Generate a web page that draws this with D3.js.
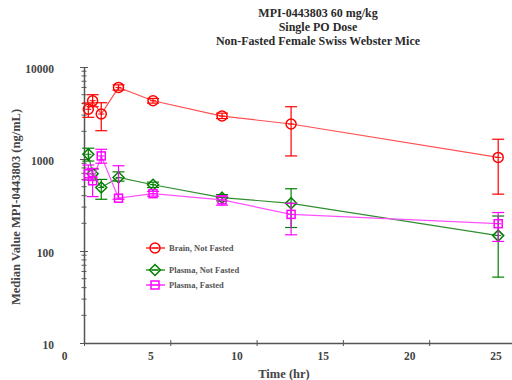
<!DOCTYPE html>
<html>
<head>
<meta charset="utf-8">
<script src="https://cdnjs.cloudflare.com/ajax/libs/d3/7.8.5/d3.min.js"></script>
<style>
  body { margin: 0; background: #fff; }
  svg { font-family: "Liberation Serif", "Times New Roman", serif; font-weight: bold; }
</style>
</head>
<body>
<div id="chart"></div>
<script>
// sampling times (hr)
const times = [0.25, 0.5, 1, 2, 4, 8, 12, 24];

// Brain, Not Fasted
const brainMed = [3470, 4300, 3080, 6000, 4300, 2930, 2400, 1040];
const brainLo  = [2840, 3700, 2030, 5600, 4050, 2750, 1080, 415];
const brainHi  = [4070, 5000, 4090, 6400, 4550, 3150, 3700, 1640];

// Plasma, Not Fasted
const pnfMed = [1125, 690, 490, 630, 525, 380, 330, 147];
const pnfLo  = [950, 590, 365, 575, 490, 350, 180, 52];
const pnfHi  = [1310, 775, 600, 725, 560, 410, 475, 240];

// Plasma, Fasted
const pfMed = [690, 580, 1080, 375, 420, 360, 250, 198];
const pfLo  = [590, 390, 900, 365, 395, 315, 150, 127];
const pfHi  = [860, 790, 1275, 845, 445, 395, 330, 262];

const titleLines = ["MPI-0443803 60 mg/kg", "Single PO Dose", "Non-Fasted Female Swiss Webster Mice"];
const xTicks = [0, 5, 10, 15, 20, 25];
const yTicks = [10, 100, 1000, 10000];

const series = [
  {name: "Brain, Not Fasted", color: "#ff0000", line: "#ff5050", shape: "circle", med: brainMed, lo: brainLo, hi: brainHi},
  {name: "Plasma, Not Fasted", color: "#008000", line: "#2f8f2f", shape: "diamond", med: pnfMed, lo: pnfLo, hi: pnfHi},
  {name: "Plasma, Fasted", color: "#ff00ff", line: "#ff50ff", shape: "square", med: pfMed, lo: pfLo, hi: pfHi}
];

const width = 512, height = 380;
const svg = d3.select("#chart").append("svg")
  .attr("width", width).attr("height", height);

const x = d3.scaleLinear().domain([0, 24.8]).range([84, 512]);
const y = d3.scaleLog().domain([10, 10000]).range([343, 67]);

const axisColor = "#555";

// title
svg.append("g").selectAll("text").data(titleLines).join("text")
  .attr("x", 318).attr("y", (d, i) => 17 + i * 14)
  .attr("text-anchor", "middle").attr("font-size", 12).attr("fill", "#2a2a2a")
  .text(d => d);

// x axis
const gX = svg.append("g").attr("transform", "translate(0," + y(10) + ")")
  .call(d3.axisBottom(x).tickValues(xTicks).tickSizeInner(3).tickSizeOuter(0).tickFormat(d3.format("d")));
gX.select(".domain").attr("stroke", axisColor).attr("stroke-width", 1.5);
gX.selectAll(".tick line").attr("stroke", axisColor).attr("y1", -3);
gX.selectAll(".tick text").attr("x", -20).attr("y", 9)
  .attr("font-size", 11.5).attr("font-family", "Liberation Serif").attr("font-weight", "bold").attr("fill", "#444");

// y axis
const gY = svg.append("g").attr("transform", "translate(" + x(0) + ",0)")
  .call(d3.axisLeft(y).tickValues(yTicks).tickSizeInner(4).tickSizeOuter(0).tickFormat(d3.format("d")));
gY.select(".domain").attr("stroke", axisColor).attr("stroke-width", 1.5);
gY.selectAll(".tick line").attr("stroke", axisColor).attr("x2", 4).attr("x1", -4);
gY.selectAll(".tick text").attr("x", -30).attr("dy", "0.45em")
  .attr("font-size", 11.5).attr("font-family", "Liberation Serif").attr("font-weight", "bold").attr("fill", "#444");

// minor y ticks
const minor = [];
[10, 100, 1000].forEach(dec => { for (let k = 2; k <= 9; k++) minor.push(dec * k); });
svg.append("g").selectAll("line").data(minor).join("line")
  .attr("x1", x(0) - 2.5).attr("x2", x(0) + 2.5)
  .attr("y1", d => y(d)).attr("y2", d => y(d))
  .attr("stroke", axisColor).attr("stroke-width", 1);

// axis titles
svg.append("text").attr("transform", "translate(20,207) rotate(-90)")
  .attr("text-anchor", "middle").attr("font-size", 12.5).attr("fill", "#444")
  .text("Median Value MPI-0443803 (ng/mL)");
svg.append("text").attr("x", 284).attr("y", 378)
  .attr("text-anchor", "middle").attr("font-size", 12.5).attr("fill", "#444")
  .text("Time (hr)");

function drawMarker(g, shape, color) {
  if (shape === "circle") {
    g.append("circle").attr("r", 5).attr("fill", "none").attr("stroke", color).attr("stroke-width", 1.5);
  } else if (shape === "diamond") {
    g.append("path").attr("d", "M0,-5.5L5.5,0L0,5.5L-5.5,0Z").attr("fill", "none").attr("stroke", color).attr("stroke-width", 1.5);
  } else {
    g.append("rect").attr("x", -4).attr("y", -4).attr("width", 8).attr("height", 8)
      .attr("fill", "none").attr("stroke", color).attr("stroke-width", 1.5);
  }
  // crosshair inside marker
  g.append("line").attr("x1", -3).attr("x2", 3).attr("stroke", color).attr("stroke-width", 1);
}

const line = d3.line().x(d => x(d.t)).y(d => y(d.v));

series.forEach(s => {
  const pts = times.map((t, i) => ({t: t, v: s.med[i], lo: s.lo[i], hi: s.hi[i]}));
  const g = svg.append("g");
  g.append("path").attr("d", line(pts)).attr("fill", "none")
    .attr("stroke", s.line).attr("stroke-width", 1.2);
  // error bars
  const eb = g.append("g").selectAll("g").data(pts).join("g").attr("stroke", s.color).attr("stroke-width", 1.2);
  eb.append("line").attr("x1", d => x(d.t)).attr("x2", d => x(d.t))
    .attr("y1", d => y(d.lo)).attr("y2", d => y(d.hi));
  eb.append("line").attr("x1", d => x(d.t) - 6).attr("x2", d => x(d.t) + 6)
    .attr("y1", d => y(d.lo)).attr("y2", d => y(d.lo));
  eb.append("line").attr("x1", d => x(d.t) - 6).attr("x2", d => x(d.t) + 6)
    .attr("y1", d => y(d.hi)).attr("y2", d => y(d.hi));
  // markers
  pts.forEach(d => {
    const m = g.append("g").attr("transform", "translate(" + x(d.t) + "," + y(d.v) + ")");
    drawMarker(m, s.shape, s.color);
  });
});

// legend
const legendY = [248, 270, 285];
series.forEach((s, i) => {
  const lg = svg.append("g").attr("transform", "translate(155," + legendY[i] + ")");
  lg.append("line").attr("x1", -9).attr("x2", 10).attr("stroke", s.color).attr("stroke-width", 1.2);
  drawMarker(lg, s.shape, s.color);
  lg.append("text").attr("x", 14).attr("dy", "0.35em").attr("font-size", 8.5).attr("fill", "#555").text(s.name);
});
</script>
</body>
</html>
